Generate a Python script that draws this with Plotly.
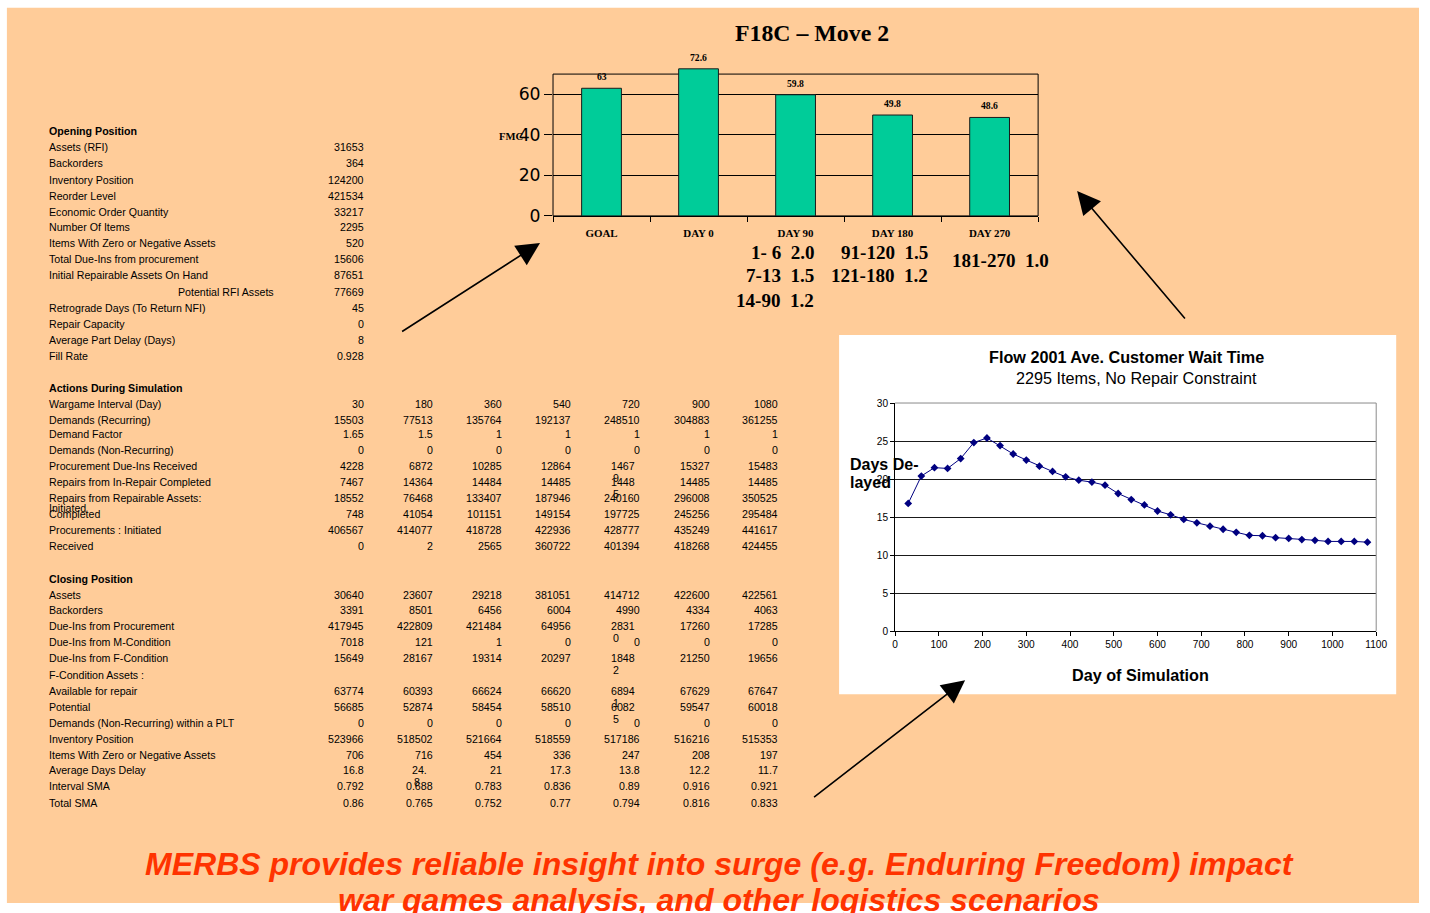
import plotly.graph_objects as go

W, H = 1430, 913
SANS = "Liberation Sans, Arial, sans-serif"
SERIF = "Liberation Serif, Times New Roman, serif"
NB = "\u00a0"

# ---------------- FMC bar chart ----------------
fmc_categories = ["GOAL", "DAY 0", "DAY 90", "DAY 180", "DAY 270"]
fmc_values = [63, 72.6, 59.8, 49.8, 48.6]
fmc_tickvals = [0, 20, 40, 60]
fmc_frame_top = 70

# demand-factor schedule printed under the bars
factor_block_a = ["1- 6  2.0", "7-13  1.5", "14-90  1.2"]
factor_block_b = ["91-120  1.5", "121-180  1.2"]
factor_block_c = ["181-270  1.0"]

# ---------------- customer wait time line ----------------
sim_days = [30, 60, 90, 120, 150, 180, 210, 240, 270, 300, 330, 360,
            390, 420, 450, 480, 510, 540, 570, 600, 630, 660, 690, 720,
            750, 780, 810, 840, 870, 900, 930, 960, 990, 1020, 1050, 1080]
days_delayed = [16.8, 20.4, 21.5, 21.4, 22.7, 24.8, 25.4, 24.4, 23.3, 22.5, 21.7, 21.0,
                20.3, 19.85, 19.6, 19.2, 18.1, 17.3, 16.6, 15.8, 15.3, 14.7, 14.25, 13.8,
                13.4, 13.0, 12.6, 12.55, 12.3, 12.2, 12.05, 11.95, 11.8, 11.8, 11.8, 11.7]

# ---------------- simulation table ----------------
opening_labels = ["Assets (RFI)", "Backorders", "Inventory Position", "Reorder Level",
                  "Economic Order Quantity", "Number Of Items",
                  "Items With Zero or Negative Assets", "Total Due-Ins from procurement",
                  "Initial Repairable Assets On Hand", "Potential RFI Assets",
                  "Retrograde Days (To Return NFI)", "Repair Capacity",
                  "Average Part Delay (Days)", "Fill Rate"]
opening_values = ["31653", "364", "124200", "421534", "33217", "2295", "520", "15606",
                  "87651", "77669", "45", "0", "8", "0.928"]

action_labels = ["Wargame Interval (Day)", "Demands (Recurring)", "Demand Factor",
                 "Demands (Non-Recurring)", "Procurement Due-Ins Received",
                 "Repairs from In-Repair Completed", "Repairs from Repairable Assets:\nInitiated",
                 "Completed", "Procurements : Initiated", "Received"]
action_values = [
    ["30", "180", "360", "540", "720", "900", "1080"],
    ["15503", "77513", "135764", "192137", "248510", "304883", "361255"],
    ["1.65", "1.5", "1", "1", "1", "1", "1"],
    ["0", "0", "0", "0", "0", "0", "0"],
    ["4228", "6872", "10285", "12864", "1467\n9", "15327", "15483"],
    ["7467", "14364", "14484", "14485", "1448\n5", "14485", "14485"],
    ["18552", "76468", "133407", "187946", "240160", "296008", "350525"],
    ["748", "41054", "101151", "149154", "197725", "245256", "295484"],
    ["406567", "414077", "418728", "422936", "428777", "435249", "441617"],
    ["0", "2", "2565", "360722", "401394", "418268", "424455"],
]

closing_labels = ["Assets", "Backorders", "Due-Ins from Procurement", "Due-Ins from M-Condition",
                  "Due-Ins from F-Condition", "F-Condition Assets :", "Available for repair",
                  "Potential", "Demands (Non-Recurring) within a PLT", "Inventory Position",
                  "Items With Zero or Negative Assets", "Average Days Delay",
                  "Interval SMA", "Total SMA"]
closing_values = [
    ["30640", "23607", "29218", "381051", "414712", "422600", "422561"],
    ["3391", "8501", "6456", "6004", "4990", "4334", "4063"],
    ["417945", "422809", "421484", "64956", "2831\n0", "17260", "17285"],
    ["7018", "121", "1", "0", "0", "0", "0"],
    ["15649", "28167", "19314", "20297", "1848\n2", "21250", "19656"],
    ["", "", "", "", "", "", ""],
    ["63774", "60393", "66624", "66620", "6894\n1", "67629", "67647"],
    ["56685", "52874", "58454", "58510", "6082\n5", "59547", "60018"],
    ["0", "0", "0", "0", "0", "0", "0"],
    ["523966", "518502", "521664", "518559", "517186", "516216", "515353"],
    ["706", "716", "454", "336", "247", "208", "197"],
    ["16.8", "24.\n8", "21", "17.3", "13.8", "12.2", "11.7"],
    ["0.792", "0.688", "0.783", "0.836", "0.89", "0.916", "0.921"],
    ["0.86", "0.765", "0.752", "0.77", "0.794", "0.816", "0.833"],
]

headline = ["MERBS provides reliable insight into surge (e.g. Enduring Freedom) impact",
            "war games analysis, and other logistics scenarios"]

# ---------------- slide geometry ----------------
# Positions are written in slide pixels; the slide sits on the page with a
# small offset and scale, which fx / fy convert into figure pixels.
OFF_X, OFF_Y = 3.1, 5.2
SCALE_X, SCALE_Y = 0.990, 0.983
FS = 1.0 / ((SCALE_X + SCALE_Y) / 2)


def fx(x):
    return (x - OFF_X) / SCALE_X


def fy(y):
    return (y - OFF_Y) / SCALE_Y


def paper(x, y):
    return fx(x) / W, 1 - fy(y) / H


opening_rows_y = [147, 163, 180, 196, 212, 227, 243, 259, 275, 292, 308, 324, 340, 356]
action_rows_y = [404, 420, 434, 450, 466, 482, 498, 514, 530, 546]
closing_rows_y = [595, 610, 626, 642, 658, 675, 691, 707, 723, 739, 755, 770, 786, 803]
col_right = [365, 434, 503, 572, 641, 711, 779]
label_left = 48
TABLE_SIZE = 10.5

annotations = []


def add_text(x, y, text, anchor="left", size=TABLE_SIZE, family=SANS,
             color="#000000", bold=False, italic=False):
    xx, yy = paper(x, y)
    if bold:
        text = f"<b>{text}</b>"
    if italic:
        text = f"<i>{text}</i>"
    annotations.append(dict(x=xx, y=yy, xref="paper", yref="paper", text=text,
                            showarrow=False, xanchor=anchor, yanchor="middle",
                            borderpad=0, font=dict(family=family, size=size * FS, color=color)))


def text_width(s, size=TABLE_SIZE):
    w = 0.0
    for ch in s:
        w += 0.278 if ch in ".," else 0.556
    return w * size


def add_value(col, y, value):
    right = col_right[col]
    if "\n" in value:
        first, second = value.split("\n")
        left = right - 8 - text_width(first)
        add_text(left, y, first, anchor="left")
        add_text(left + 2, y + 12, second, anchor="left")
    else:
        add_text(right, y, value, anchor="right")


def add_label(y, label, x=label_left):
    if "\n" in label:
        first, second = label.split("\n")
        add_text(x, y, first)
        add_text(x, y + 10, second)
    else:
        add_text(x, y, label)


# opening position
add_text(label_left, 131, "Opening Position", bold=True)
for lab, val, y in zip(opening_labels, opening_values, opening_rows_y):
    add_label(y, lab, x=177 if lab == "Potential RFI Assets" else label_left)
    add_value(0, y, val)

# actions during simulation
add_text(label_left, 388, "Actions During Simulation", bold=True)
for lab, vals, y in zip(action_labels, action_values, action_rows_y):
    add_label(y, lab)
    for c, v in enumerate(vals):
        add_value(c, y, v)

# closing position
add_text(label_left, 579, "Closing Position", bold=True)
for lab, vals, y in zip(closing_labels, closing_values, closing_rows_y):
    add_label(y, lab)
    for c, v in enumerate(vals):
        if v:
            add_value(c, y, v)

# bar chart titles and notes
add_text(812, 33, "F18C \u2013 Move 2", anchor="center", size=23.5, family=SERIF, bold=True)
add_text(511, 137, "FMC", anchor="center", size=10.5, family=SERIF, bold=True)
for s, y in zip(factor_block_a, [253, 276, 301]):
    add_text(815, y, s.replace(" ", NB), anchor="right", size=18.8, family=SERIF, bold=True)
for s, y in zip(factor_block_b, [253, 276]):
    add_text(929, y, s.replace(" ", NB), anchor="right", size=18.8, family=SERIF, bold=True)
for s, y in zip(factor_block_c, [261]):
    add_text(1050, y, s.replace(" ", NB), anchor="right", size=18.8, family=SERIF, bold=True)

# line chart titles
add_text(1126, 357, "Flow 2001 Ave. Customer Wait Time", anchor="center", size=16, bold=True)
add_text(1136, 378, "2295 Items, No Repair Constraint", anchor="center", size=16)
add_text(849, 464, "Days De-", anchor="left", size=15.8, bold=True)
add_text(849, 482, "layed", anchor="left", size=15.8, bold=True)
add_text(1140, 675, "Day of Simulation", anchor="center", size=16, bold=True)

# headline
for s, y in zip(headline, [864, 900]):
    add_text(719, y, s, anchor="center", size=31.6, color="#FF3300", bold=True, italic=True)

# pointer arrows (tail, head)
arrows = [((402, 331), (540, 243)), ((1185, 318), (1077, 191)), ((814, 796), (965, 680))]
for (tx, ty), (hx, hy) in arrows:
    hx_, hy_ = paper(hx, hy)
    annotations.append(dict(x=hx_, y=hy_, xref="paper", yref="paper",
                            ax=fx(tx) - fx(hx), ay=fy(ty) - fy(hy), axref="pixel", ayref="pixel",
                            text="", showarrow=True, arrowhead=2, arrowsize=2.9,
                            arrowwidth=1.6, arrowcolor="#000000", standoff=0))

# value labels above the bars
bar_px_per_unit = 2.025 / SCALE_Y
for cat, v in zip(fmc_categories, fmc_values):
    annotations.append(dict(x=cat, y=v, xref="x", yref="y", text=f"<b>{v:g}</b>",
                            showarrow=False, yanchor="middle", yshift=11.5 / SCALE_Y,
                            font=dict(family=SERIF, size=9.5 * FS, color="#000000")))

# ---------------- figure ----------------
fig = go.Figure()

fig.add_trace(go.Bar(
    x=fmc_categories, y=fmc_values, xaxis="x", yaxis="y", width=0.41,
    marker=dict(color="#00CC99", line=dict(color="#1a1a1a", width=1)),
    showlegend=False, hoverinfo="skip"))

fig.add_trace(go.Scatter(
    x=sim_days, y=days_delayed, xaxis="x2", yaxis="y2", mode="lines+markers",
    line=dict(color="#000080", width=1),
    marker=dict(symbol="diamond", size=6, color="#000080"),
    showlegend=False, hoverinfo="skip"))

bar_zero = fy(216)
bar_range_top = 75
bar_top = bar_zero - bar_range_top * bar_px_per_unit

shapes = [
    # slide background
    dict(type="rect", xref="paper", yref="paper", x0=fx(7) / W, x1=1, y0=0, y1=1 - fy(8) / H,
         fillcolor="#FFCC99", line=dict(width=0), layer="below"),
    # white panel behind the line chart
    dict(type="rect", xref="paper", yref="paper", x0=fx(839) / W, x1=fx(1396) / W,
         y0=1 - fy(694) / H, y1=1 - fy(335) / H, fillcolor="#FFFFFF",
         line=dict(width=0), layer="below"),
    # bar chart frame
    dict(type="rect", xref="x domain", yref="y", x0=0, x1=1, y0=0, y1=fmc_frame_top,
         line=dict(color="#000000", width=1), layer="below"),
    # line chart top / right border
    dict(type="line", xref="x2 domain", yref="y2 domain", x0=0, x1=1, y0=1, y1=1,
         line=dict(color="#8a8a8a", width=1), layer="above"),
    dict(type="line", xref="x2 domain", yref="y2 domain", x0=1, x1=1, y0=0, y1=1,
         line=dict(color="#8a8a8a", width=1), layer="above"),
]

fig.update_layout(
    width=W, height=H, margin=dict(l=0, r=0, t=0, b=0),
    paper_bgcolor="#FFFFFF", plot_bgcolor="rgba(0,0,0,0)",
    showlegend=False, shapes=shapes, annotations=annotations,
    xaxis=dict(domain=[fx(553) / W, fx(1038) / W], anchor="y", type="category",
               showline=True, linecolor="#000000", linewidth=1,
               ticks="outside", tickson="boundaries", ticklen=5, tickcolor="#000000",
               ticklabelstandoff=7,
               tickfont=dict(family=SERIF, size=10.8 * FS, color="#000000", weight="bold"),
               showgrid=False, zeroline=False, fixedrange=True),
    yaxis=dict(domain=[1 - bar_zero / H, 1 - bar_top / H],
               anchor="x", range=[0, bar_range_top], tickvals=fmc_tickvals,
               showline=False, ticks="outside", ticklen=8, tickcolor="#000000",
               ticklabelstandoff=0,
               showgrid=True, gridcolor="#000000", gridwidth=1, zeroline=False,
               tickfont=dict(family="DejaVu Sans, sans-serif", size=17 * FS, color="#000000"),
               fixedrange=True),
    xaxis2=dict(domain=[fx(895) / W, fx(1376) / W], anchor="y2", range=[0, 1100],
                dtick=100, tick0=0,
                showline=True, linecolor="#000000", linewidth=1, ticks="outside", ticklen=4,
                tickcolor="#000000", showgrid=False, zeroline=False,
                tickfont=dict(family=SANS, size=10 * FS, color="#000000"), fixedrange=True),
    yaxis2=dict(domain=[1 - fy(631) / H, 1 - fy(403) / H], anchor="x2", range=[0, 30],
                dtick=5, tick0=0,
                showline=True, linecolor="#000000", linewidth=1, ticks="outside", ticklen=4,
                tickcolor="#000000", showgrid=True, gridcolor="#1a1a1a", gridwidth=1,
                zeroline=False, tickfont=dict(family=SANS, size=10 * FS, color="#000000"),
                fixedrange=True),
)

fig.write_html("out.html", config={"displayModeBar": False})
